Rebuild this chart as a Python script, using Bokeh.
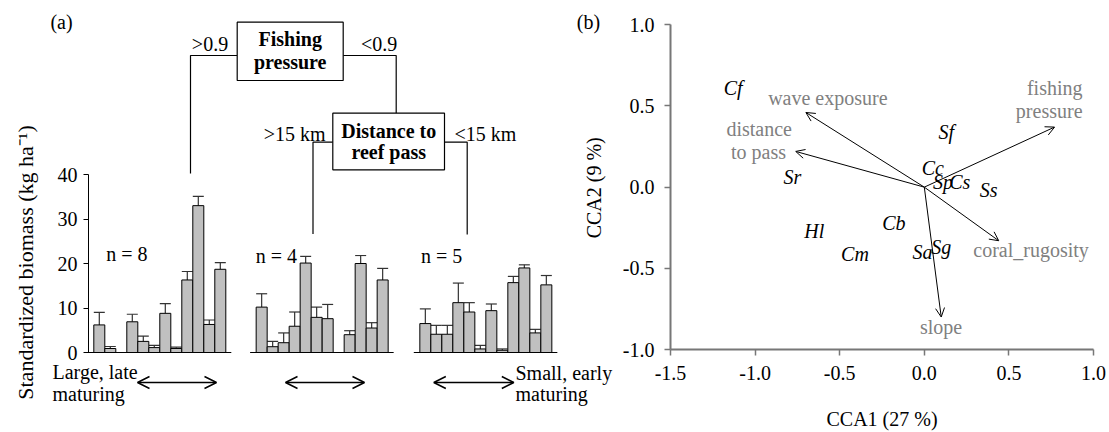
import math
from bokeh.plotting import figure
from bokeh.models import (Range1d, FixedTicker, Arrow, OpenHead, LinearAxis,
                          ColumnDataSource, CustomJSTickFormatter)
from bokeh.embed import file_html
from bokeh.resources import INLINE
from bokeh.core.properties import value

FONT = "Liberation Serif"
FS = "20px"

# ---------------- data: panel (a) ----------------
group_labels = ["n = 8", "n = 4", "n = 5"]
biomass_g1 = [6.2, 0.9, 0, 6.9, 2.5, 1.1, 8.8, 0.9, 16.3, 33.0, 6.3, 18.7]
upper_g1 = [9.0, 1.35, 0, 8.6, 3.7, 1.6, 11.0, 1.2, 18.2, 35.1, 7.3, 20.2]
biomass_g2 = [10.2, 1.3, 2.2, 5.9, 20.1, 7.9, 7.6, 0, 4.0, 20.0, 5.5, 16.3]
upper_g2 = [13.2, 2.5, 4.4, 9.1, 21.6, 10.2, 10.8, 0, 4.9, 21.8, 6.7, 18.9]
biomass_g3 = [6.5, 4.1, 4.1, 11.2, 9.1, 0.8, 9.4, 0.5, 15.7, 19.0, 4.4, 15.2]
upper_g3 = [9.8, 6.1, 6.1, 15.6, 11.2, 1.6, 10.9, 0.8, 17.1, 19.7, 5.2, 17.3]
y_ticks_a = [0, 10, 20, 30, 40]

# ---------------- data: panel (b) ----------------
species = ["Cf", "Sf", "Cc", "Sp", "Cs", "Ss", "Sr", "Cb", "Hl", "Cm", "Sa", "Sg"]
sp_x = [-1.13, 0.13, 0.05, 0.11, 0.21, 0.38, -0.78, -0.18, -0.65, -0.41, -0.01, 0.10]
sp_y = [0.61, 0.34, 0.12, 0.03, 0.03, -0.02, 0.06, -0.22, -0.27, -0.41, -0.40, -0.37]
env_vars = ["wave exposure", "distance to pass", "fishing pressure", "coral_rugosity", "slope"]
env_x = [-0.70, -0.76, 0.77, 0.44, 0.10]
env_y = [0.46, 0.22, 0.37, -0.33, -0.80]
ticks_b_x = [-1.5, -1.0, -0.5, 0.0, 0.5, 1.0]
ticks_b_y = [-1.0, -0.5, 0.0, 0.5, 1.0]

W, H = 1109, 432

# ---------------- layout helpers (pixel -> data) ----------------
X0_PX, BAR_PX = 98.8, 11.0      # panel (a): centre of first bar, bar width
Y0_PX, YPX = 352.0, 4.45        # panel (a): baseline, px per unit
BX0_PX, BXU = 670.0, 169.2      # panel (b): x=-1.5 position, px per unit
BY1_PX, BYU = 24.3, 162.35      # panel (b): y=1.0 position, px per unit


def ax(px):
    return (px - X0_PX) / BAR_PX


def ay(py):
    return (Y0_PX - py) / YPX


def bxp(px):
    return -1.5 + (px - BX0_PX) / BXU


def byp(py):
    return 1.0 - (py - BY1_PX) / BYU


group_offsets = [0.0, 14.76, 29.64]

p = figure(width=W, height=H, title=None, toolbar_location=None,
           output_backend="svg", x_axis_location=None, y_axis_location=None,
           x_range=Range1d(ax(0), ax(W)), y_range=Range1d(ay(H), ay(0)),
           min_border_left=0, min_border_right=0, min_border_top=0,
           min_border_bottom=0)
p.extra_x_ranges = {"b": Range1d(bxp(0), bxp(W))}
p.extra_y_ranges = {"b": Range1d(byp(H), byp(0))}
p.outline_line_color = None
p.grid.visible = False


def style_axis(a, color, lw, tick_out, standoff):
    a.axis_line_color = color
    a.axis_line_width = lw
    a.major_tick_line_color = color
    a.major_tick_line_width = min(lw, 1.5)
    a.major_tick_out = tick_out
    a.major_tick_in = 0
    a.minor_tick_line_color = None
    a.major_label_standoff = standoff
    a.major_label_text_font = FONT
    a.major_label_text_font_size = FS
    a.major_label_text_color = "black"


ya = LinearAxis(fixed_location=ax(88), bounds=(0, 40), ticker=FixedTicker(ticks=y_ticks_a))
style_axis(ya, "black", 1, 5, 6)
p.add_layout(ya, "left")

fmt = CustomJSTickFormatter(code="return tick.toFixed(1);")
yb = LinearAxis(x_range_name="b", y_range_name="b", fixed_location=-1.5, bounds=(-1.0, 1.0),
                ticker=FixedTicker(ticks=ticks_b_y), formatter=fmt)
style_axis(yb, "#777777", 2, 6, 10)
p.add_layout(yb, "left")
xb = LinearAxis(x_range_name="b", y_range_name="b", fixed_location=-1.0, bounds=(-1.5, 1.0),
                ticker=FixedTicker(ticks=ticks_b_x), formatter=fmt)
style_axis(xb, "#777777", 2, 6, 10)
p.add_layout(xb, "below")

# ---------------- panel (a) bars ----------------
bx, btop, bup = [], [], []
base_x0, base_x1 = [], []
for off, vals, ups in zip(group_offsets, [biomass_g1, biomass_g2, biomass_g3],
                          [upper_g1, upper_g2, upper_g3]):
    for i, (v, u) in enumerate(zip(vals, ups)):
        if v > 0:
            bx.append(off + i)
            btop.append(v)
            bup.append(u)
    base_x0.append(off - 1.05)
    base_x1.append(off + 12.0)

src = ColumnDataSource(dict(x=bx, top=btop, up=bup,
                            xl=[x - 0.5 for x in bx], xr=[x + 0.5 for x in bx]))
p.segment(x0="x", y0="top", x1="x", y1="up", source=src, line_color="#333333", line_width=1.2)
p.segment(x0="xl", y0="up", x1="xr", y1="up", source=src, line_color="#333333", line_width=1.2)
p.vbar(x="x", top="top", bottom=0, width=1.0, source=src,
       fill_color="#c0c0c0", line_color="black", line_width=1)
p.segment(x0=base_x0, y0=[0] * 3, x1=base_x1, y1=[0] * 3, line_color="black", line_width=1.2)


def txt(items, style="normal", align="center", angle=0.0, color="black", rng=None, size=FS):
    kw = {}
    if rng == "b":
        kw = dict(x_range_name="b", y_range_name="b")
        xs = [bxp(i[1]) for i in items]
        ys = [byp(i[2]) for i in items]
    else:
        xs = [ax(i[1]) for i in items]
        ys = [ay(i[2]) for i in items]
    p.text(x=xs, y=ys, text=[i[0] for i in items], angle=angle,
           text_font=value(FONT), text_font_size=size, text_font_style=style,
           text_align=align, text_baseline="middle", text_color=color, **kw)


n_px = [(126.3, 253.3), (275.8, 255.3), (441.2, 255.0)]
txt([(t, a, b) for t, (a, b) in zip(group_labels, n_px)])

# regression tree
tree_lines = [[(236.7, 55), (190, 55), (190, 173)],
              [(342.7, 55), (395.7, 55), (395.7, 112.7)],
              [(332.3, 141.7), (312.5, 141.7), (312.5, 233.5)],
              [(444, 141.7), (466.7, 141.7), (466.7, 234)]]
p.multi_line(xs=[[ax(q[0]) for q in ln] for ln in tree_lines],
             ys=[[ay(q[1]) for q in ln] for ln in tree_lines],
             line_color="black", line_width=1.2)
boxes = [(236.7, 342.7, 21.7, 80.0), (332.3, 444.0, 112.7, 169.3)]
p.quad(left=[ax(b[0]) for b in boxes], right=[ax(b[1]) for b in boxes],
       top=[ay(b[2]) for b in boxes], bottom=[ay(b[3]) for b in boxes],
       fill_color="white", line_color="black", line_width=1.2)
txt([("Fishing", 289.7, 38.3), ("pressure", 289.7, 61.7),
     ("Distance to", 388.2, 130.7), ("reef pass", 388.2, 151.7)], style="bold")
txt([(">0.9", 209.5, 43.3), ("<0.9", 378.7, 43.3),
     (">15 km", 294.2, 133.3), ("<15 km", 484.8, 133.3)])

for (x0, x1) in [(137, 216), (285, 364), (433.3, 513.3)]:
    p.add_layout(Arrow(x_start=ax(x0), y_start=ay(382), x_end=ax(x1), y_end=ay(382),
                       line_color="black", line_width=1.5,
                       start=OpenHead(size=12, line_color="black", line_width=1.5),
                       end=OpenHead(size=12, line_color="black", line_width=1.5)))

txt([("(a)", 61, 21.7)])
txt([("Large, late", 52, 371.7), ("maturing", 52, 393),
     ("Small, early", 515, 372.3), ("maturing", 515, 393)], align="left")
txt([("Standardized biomass (kg ha\u207b\u00b9)", 25, 262)], angle=math.pi / 2, size="22px")

# ---------------- panel (b) ----------------
txt([("CCA2 (9 %)", 593.3, 187.3)], angle=math.pi / 2, rng="b")
txt([("CCA1 (27 %)", 881.5, 418)], rng="b")
txt([("(b)", 588, 21.7)], rng="b")

asrc = ColumnDataSource(dict(x0=[0.0] * len(env_x), y0=[0.0] * len(env_y), x1=env_x, y1=env_y))
p.add_layout(Arrow(source=asrc, x_start="x0", y_start="y0", x_end="x1", y_end="y1",
                   x_range_name="b", y_range_name="b",
                   line_color="black", line_width=1,
                   end=OpenHead(size=9, line_color="black", line_width=1)))

p.text(x=sp_x, y=sp_y, text=species, x_range_name="b", y_range_name="b",
       text_font=value(FONT), text_font_size=FS,
       text_font_style="italic", text_align="center", text_baseline="middle",
       text_color="black")

env_text = ["wave exposure", "distance", "to pass", "fishing", "pressure",
            "coral_rugosity", "slope"]
env_lx = [-0.570, -0.976, -0.980, 0.935, 0.935, 0.631, 0.099]
env_ly = [0.548, 0.360, 0.2155, 0.612, 0.472, -0.390, -0.862]
env_al = ["center", "center", "center", "right", "right", "center", "center"]
p.text(x=env_lx, y=env_ly, text=env_text, text_align=env_al,
       x_range_name="b", y_range_name="b",
       text_font=value(FONT), text_font_size=FS, text_baseline="middle",
       text_color="#808080")

open("out.html", "w").write(file_html(p, INLINE))
